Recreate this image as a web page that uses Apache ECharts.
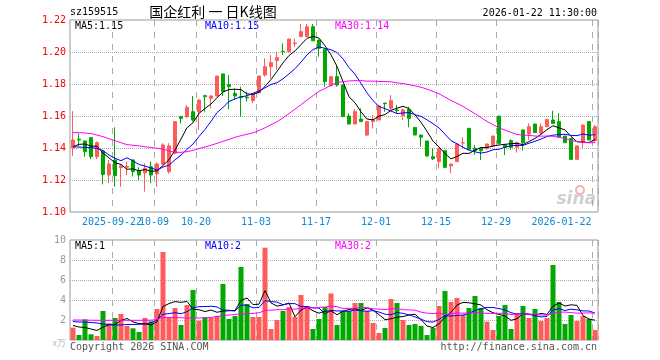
<!DOCTYPE html>
<html><head><meta charset="utf-8">
<script src="https://cdn.jsdelivr.net/npm/echarts@6/dist/echarts.min.js"></script>
<style>html,body{margin:0;padding:0;background:#fff}#c{width:660px;height:360px}</style>
</head><body><div id="c"></div>
<script>
const dates = ["2025-09-11","2025-09-12","2025-09-15","2025-09-16","2025-09-17","2025-09-18","2025-09-19","2025-09-22","2025-09-23","2025-09-24",
"2025-09-25","2025-09-26","2025-09-29","2025-09-30","2025-10-09","2025-10-10","2025-10-13","2025-10-14","2025-10-15","2025-10-16",
"2025-10-17","2025-10-20","2025-10-21","2025-10-22","2025-10-23","2025-10-24","2025-10-27","2025-10-28","2025-10-29","2025-10-30",
"2025-10-31","2025-11-03","2025-11-04","2025-11-05","2025-11-06","2025-11-07","2025-11-10","2025-11-11","2025-11-12","2025-11-13",
"2025-11-14","2025-11-17","2025-11-18","2025-11-19","2025-11-20","2025-11-21","2025-11-24","2025-11-25","2025-11-26","2025-11-27",
"2025-11-28","2025-12-01","2025-12-02","2025-12-03","2025-12-04","2025-12-05","2025-12-08","2025-12-09","2025-12-10","2025-12-11",
"2025-12-12","2025-12-15","2025-12-16","2025-12-17","2025-12-18","2025-12-19","2025-12-22","2025-12-23","2025-12-24","2025-12-25",
"2025-12-26","2025-12-29","2025-12-30","2025-12-31","2026-01-05","2026-01-06","2026-01-07","2026-01-08","2026-01-09","2026-01-12",
"2026-01-13","2026-01-14","2026-01-15","2026-01-16","2026-01-19","2026-01-20","2026-01-21","2026-01-22"];

// tick labels (two interleaved sets so touching labels are both kept)
const labelDatesA = ["2025-09-22","2025-10-20","2025-11-03","2025-11-17","2025-12-01","2025-12-15","2025-12-29","2026-01-22"];
const labelDatesB = ["2025-10-09"];
const fullLabelDates = ["2025-09-22","2026-01-22"];

const open = [1.140,1.1455,1.1444,1.1465,1.1346,1.1381,1.1231,1.1325,1.1277,1.128,
1.1325,1.1258,1.1244,1.1283,1.1238,1.130,1.1252,1.1367,1.1596,1.1596,
1.1627,1.1627,1.1727,1.171,1.1725,1.1863,1.1796,1.1742,1.1721,1.1717,
1.1696,1.1746,1.1856,1.1908,1.1946,1.2004,1.2002,1.2052,1.2096,1.2096,
1.2158,1.2075,1.2017,1.179,1.1846,1.1794,1.16,1.155,1.1581,1.1481,
1.1565,1.1575,1.1681,1.1648,1.1638,1.1602,1.1642,1.1529,1.1481,1.1444,
1.1346,1.1315,1.1383,1.1288,1.1315,1.1431,1.1523,1.1398,1.1398,1.1398,
1.1413,1.16,1.1419,1.1446,1.1404,1.1513,1.1488,1.155,1.1496,1.1533,
1.1575,1.1565,1.1475,1.146,1.1329,1.1435,1.1565,1.1446];

const close = [1.145,1.145,1.1377,1.1346,1.1433,1.1235,1.130,1.1227,1.1288,1.1285,
1.1252,1.1231,1.1273,1.1231,1.130,1.1419,1.1413,1.1565,1.1585,1.1654,
1.1575,1.170,1.1721,1.1725,1.185,1.1752,1.1783,1.1725,1.1715,1.1713,
1.1738,1.185,1.1908,1.1933,1.1965,1.2002,1.2081,1.2056,1.2127,1.2158,
1.207,1.2023,1.1815,1.1846,1.1794,1.1596,1.155,1.1627,1.1565,1.1565,
1.1575,1.1663,1.1677,1.1696,1.1633,1.1638,1.1585,1.1481,1.1467,1.135,
1.1333,1.1398,1.1279,1.130,1.1425,1.1433,1.1392,1.1383,1.1383,1.1425,
1.1475,1.1429,1.1404,1.1404,1.1433,1.1433,1.1533,1.1496,1.1533,1.1579,
1.1554,1.1467,1.1433,1.1329,1.1413,1.1544,1.145,1.1533];

const high = [1.163,1.149,1.1444,1.1465,1.1442,1.139,1.1325,1.1529,1.130,1.1315,
1.133,1.128,1.1304,1.1315,1.131,1.143,1.143,1.1565,1.16,1.1669,
1.1725,1.1704,1.1733,1.1731,1.185,1.1863,1.1856,1.1773,1.1783,1.1752,
1.1742,1.185,1.196,1.1981,1.2002,1.2054,1.2081,1.2085,1.2175,1.2175,
1.2175,1.2075,1.2017,1.1846,1.1919,1.1794,1.1617,1.1642,1.1648,1.1565,
1.1606,1.1669,1.1681,1.1731,1.1669,1.1648,1.1658,1.1529,1.1481,1.1444,
1.1398,1.1398,1.1383,1.130,1.1425,1.1467,1.1523,1.1419,1.1398,1.1429,
1.1475,1.16,1.1419,1.1454,1.144,1.1513,1.1554,1.155,1.1554,1.1579,
1.1633,1.1617,1.1475,1.146,1.1413,1.1544,1.1565,1.1544];

const low = [1.135,1.141,1.1346,1.133,1.133,1.1173,1.118,1.1158,1.1158,1.123,
1.1223,1.12,1.1127,1.118,1.1158,1.129,1.124,1.136,1.1554,1.1585,
1.1565,1.1513,1.1627,1.1648,1.1721,1.1725,1.1642,1.17,1.1596,1.169,
1.168,1.1742,1.1846,1.1835,1.1888,1.1981,1.2,1.2033,1.2096,1.2096,
1.207,1.1971,1.1783,1.1783,1.1783,1.1596,1.155,1.155,1.1565,1.1475,
1.1523,1.1575,1.1627,1.1638,1.1617,1.1575,1.1529,1.1481,1.1408,1.1346,
1.1325,1.1273,1.1275,1.1242,1.1315,1.1398,1.1392,1.1356,1.1325,1.1388,
1.1408,1.1429,1.1356,1.1388,1.1371,1.1383,1.145,1.1496,1.1481,1.1533,
1.1554,1.1467,1.1433,1.1329,1.1329,1.1398,1.145,1.1433];

const volume = [1.23,0.5,2.07,0.57,0.4,2.9,1.67,2.2,2.6,1.4,
1.17,0.8,2.2,1.87,3.1,8.8,2.23,3.2,1.5,3.5,
5.0,1.93,2.3,2.23,2.4,5.6,2.1,2.4,7.3,3.6,
2.3,2.3,9.23,1.1,2.0,2.9,3.3,2.3,4.5,3.4,
1.1,2.1,3.3,4.65,1.5,2.9,2.9,3.7,3.7,2.9,
1.7,0.7,1.2,4.1,3.7,2.0,1.5,1.6,1.4,0.5,
1.2,3.4,4.9,3.8,4.2,2.5,3.2,4.4,3.2,1.83,
1.0,2.4,3.5,1.1,2.67,3.4,2.2,3.1,1.9,2.2,
7.5,3.8,1.6,2.5,1.9,2.4,2.1,1.0];

// moving-average values for days whose window starts before the first shown day
const ma5PriceHead = [1.1408,1.1423,1.1425,1.1412];
const ma10PriceHead = [1.1408,1.1406,1.1404,1.1402,1.1398,1.1383,1.1356,1.1335,1.1321];
const ma30PriceHead = [1.1496,1.1496,1.1494,1.1490,1.1481,1.1471,1.1458,1.1446,1.1433,1.1421,
1.1417,1.1413,1.1408,1.1404,1.1398,1.1392,1.1381,1.1373,1.1373,1.1377,
1.1385,1.1396,1.1406,1.1417,1.1429,1.1442,1.1454,1.1467,1.1477];
const ma5VolHead = [1.45,1.3,1.25,1.1];
const ma10VolHead = [1.85,1.8,1.8,1.75,1.7,1.6,1.55,1.5,1.5];
const ma30VolHead = [2.0,2.0,1.98,1.98,1.97,1.97,1.97,1.97,1.97,1.97,
1.97,1.97,1.98,1.98,2.05,2.27,2.25,2.25,2.22,2.2,
2.2,2.2,2.22,2.25,2.35,2.45,2.5,2.55,2.6];

const UP = '#ff5b5b', DOWN = '#00a800';
const MONO = 'DejaVu Sans Mono';

function movingAvg(arr, n, head) {
  return arr.map((v, i) => {
    if (i < n - 1) return head[i];
    let s = 0;
    for (let k = i - n + 1; k <= i; k++) s += arr[k];
    return +(s / n).toFixed(4);
  });
}
const ma5 = movingAvg(close, 5, ma5PriceHead);
const ma10 = movingAvg(close, 10, ma10PriceHead);
const ma30 = movingAvg(close, 30, ma30PriceHead);
const vma5 = movingAvg(volume, 5, ma5VolHead);
const vma10 = movingAvg(volume, 10, ma10VolHead);
const vma30 = movingAvg(volume, 30, ma30VolHead);

const candleData = dates.map((d, i) => [open[i], close[i], low[i], high[i]]);
const volData = volume.map((v, i) => ({ value: v, itemStyle: { color: close[i] >= open[i] ? UP : DOWN } }));

const idxA = new Set(labelDatesA.map(d => dates.indexOf(d)));
const idxB = new Set(labelDatesB.map(d => dates.indexOf(d)));
const idxAll = new Set([...idxA, ...idxB]);
const lastIdx = dates.length - 1;

const last = a => a[a.length - 1];

const chart = echarts.init(document.getElementById('c'), null, { renderer: 'canvas' });
const dashed = { color: '#aaa', width: 1, type: [6, 6] };
const dotted = { color: '#aaa', width: 1, type: [1, 1] };

function labelFmt(v) {
  const txt = fullLabelDates.includes(v) ? v : v.slice(5);
  return v === dates[lastIdx] ? '{last|' + txt + '}' : txt;
}
const labelBase = {
  hideOverlap: false, color: '#0a8ad2', fontFamily: MONO, fontSize: 10, margin: 5,
  padding: [0, 6, 0, 0], formatter: labelFmt,
  rich: { last: { color: '#0a8ad2', fontFamily: MONO, fontSize: 10, padding: [0, 61, 0, 0] } }
};

chart.setOption({
  animation: false,
  grid: [
    { left: 70, top: 20, width: 528, height: 192, show: true, borderColor: '#999', borderWidth: 1, backgroundColor: 'transparent' },
    { left: 70, top: 240, width: 528, height: 100, show: true, borderColor: '#999', borderWidth: 1, backgroundColor: 'transparent' }
  ],
  xAxis: [
    {
      type: 'category', gridIndex: 0, data: dates, boundaryGap: true,
      axisLine: { show: false }, axisTick: { show: false },
      axisLabel: Object.assign({}, labelBase, { interval: (idx) => idxA.has(idx), showMinLabel: true, showMaxLabel: true }),
      splitLine: { show: true, interval: (idx) => idxAll.has(idx), lineStyle: dashed }
    },
    {
      type: 'category', gridIndex: 1, data: dates, boundaryGap: true,
      axisLine: { show: false }, axisTick: { show: false }, axisLabel: { show: false },
      splitLine: { show: true, interval: (idx) => idxAll.has(idx), lineStyle: dashed }
    },
    {
      type: 'category', gridIndex: 0, data: dates, boundaryGap: true, position: 'bottom',
      axisLine: { show: false }, axisTick: { show: false }, splitLine: { show: false },
      axisLabel: Object.assign({}, labelBase, { interval: (idx) => idxB.has(idx), showMinLabel: false, showMaxLabel: false })
    }
  ],
  yAxis: [
    {
      type: 'value', gridIndex: 0, min: 1.10, max: 1.22, interval: 0.02, scale: true,
      axisLine: { show: false }, axisTick: { show: false },
      axisLabel: { color: '#ff0000', fontFamily: MONO, fontSize: 10, margin: 4, formatter: v => v.toFixed(2) },
      splitLine: { show: true, lineStyle: dotted, showMinLine: false, showMaxLine: false }
    },
    {
      type: 'value', gridIndex: 1, min: 0, max: 10, interval: 2,
      axisLine: { show: false }, axisTick: { show: false },
      axisLabel: {
        color: '#999', fontFamily: MONO, fontSize: 10, margin: 4,
        formatter: v => v === 0 ? '{u|x万}' : String(v),
        rich: { u: { color: '#bbb', fontSize: 9, fontFamily: 'Noto Sans CJK SC', padding: [6, 0, 0, 0] } }
      },
      splitLine: { show: true, lineStyle: dotted, showMinLine: false, showMaxLine: false }
    }
  ],
  series: [
    {
      type: 'candlestick', xAxisIndex: 0, yAxisIndex: 0, data: candleData, barWidth: 4,
      itemStyle: { color: UP, color0: DOWN, borderColor: UP, borderColor0: DOWN, borderWidth: 1 }
    },
    { type: 'line', xAxisIndex: 0, yAxisIndex: 0, data: ma5, showSymbol: false, lineStyle: { color: '#000', width: 1 }, itemStyle: { color: '#000' } },
    { type: 'line', xAxisIndex: 0, yAxisIndex: 0, data: ma10, showSymbol: false, lineStyle: { color: '#0000ff', width: 1 }, itemStyle: { color: '#0000ff' } },
    { type: 'line', xAxisIndex: 0, yAxisIndex: 0, data: ma30, showSymbol: false, lineStyle: { color: '#ff00ff', width: 1 }, itemStyle: { color: '#ff00ff' } },
    { type: 'bar', xAxisIndex: 1, yAxisIndex: 1, data: volData, barWidth: 5 },
    { type: 'line', xAxisIndex: 1, yAxisIndex: 1, data: vma5, showSymbol: false, lineStyle: { color: '#000', width: 1 }, itemStyle: { color: '#000' } },
    { type: 'line', xAxisIndex: 1, yAxisIndex: 1, data: vma10, showSymbol: false, lineStyle: { color: '#0000ff', width: 1 }, itemStyle: { color: '#0000ff' } },
    { type: 'line', xAxisIndex: 1, yAxisIndex: 1, data: vma30, showSymbol: false, lineStyle: { color: '#ff00ff', width: 1 }, itemStyle: { color: '#ff00ff' } }
  ],
  graphic: [
    { type: 'text', left: 70, top: 7, style: { text: 'sz159515', fill: '#000', font: '10px "' + MONO + '"' } },
    { type: 'text', x: 213, y: 12, style: { text: '国企红利 一 日K线图', fill: '#000', font: '14px "Noto Sans CJK SC"', textAlign: 'center', textVerticalAlign: 'middle' } },
    { type: 'text', x: 597, y: 13, style: { text: '2026-01-22 11:30:00', fill: '#000', font: '10px "' + MONO + '"', textAlign: 'right', textVerticalAlign: 'middle' } },
    { type: 'text', x: 75, y: 26, style: { text: 'MA5:' + last(ma5).toFixed(2), fill: '#000', font: '10px "' + MONO + '"', textVerticalAlign: 'middle' } },
    { type: 'text', x: 205, y: 26, style: { text: 'MA10:' + last(ma10).toFixed(2), fill: '#0000ff', font: '10px "' + MONO + '"', textVerticalAlign: 'middle' } },
    { type: 'text', x: 335, y: 26, style: { text: 'MA30:' + last(ma30).toFixed(2), fill: '#ff00ff', font: '10px "' + MONO + '"', textVerticalAlign: 'middle' } },
    { type: 'text', x: 75, y: 246, style: { text: 'MA5:' + Math.floor(last(vma5)), fill: '#000', font: '10px "' + MONO + '"', textVerticalAlign: 'middle' } },
    { type: 'text', x: 205, y: 246, style: { text: 'MA10:' + Math.floor(last(vma10)), fill: '#0000ff', font: '10px "' + MONO + '"', textVerticalAlign: 'middle' } },
    { type: 'text', x: 335, y: 246, style: { text: 'MA30:' + Math.floor(last(vma30)), fill: '#ff00ff', font: '10px "' + MONO + '"', textVerticalAlign: 'middle' } },
    { type: 'text', x: 70, y: 347, style: { text: 'Copyright 2026 SINA.COM', fill: '#555', font: '10px "' + MONO + '"', textVerticalAlign: 'middle' } },
    { type: 'text', x: 597, y: 347, style: { text: 'http://finance.sina.com.cn', fill: '#555', font: '10px "' + MONO + '"', textAlign: 'right', textVerticalAlign: 'middle' } },
    { type: 'circle', shape: { cx: 580, cy: 190, r: 4 }, style: { fill: 'none', stroke: '#f2b0b0', lineWidth: 2 } },
    { type: 'text', x: 596, y: 200, style: { text: 'sina', fill: '#cfcfcf', font: 'italic bold 17px "DejaVu Sans"', textAlign: 'right', textVerticalAlign: 'middle' } }
  ]
});
</script>
</body></html>
